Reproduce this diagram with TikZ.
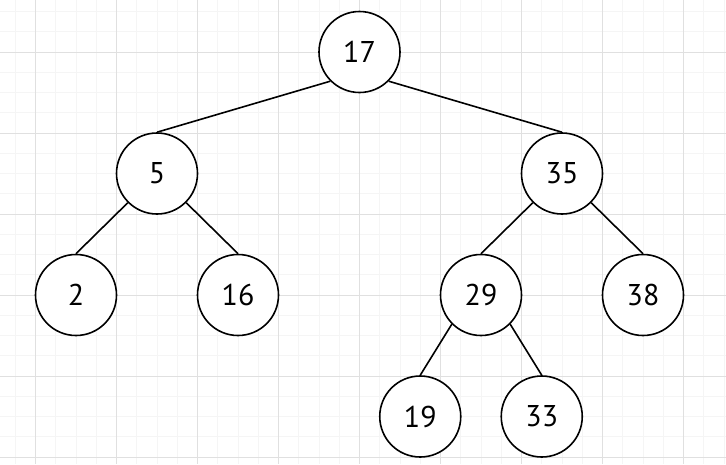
\documentclass[tikz,border=0pt]{standalone}
\usepackage{fontspec}
\setmainfont{PT Sans}
\definecolor{gridminor}{HTML}{F5F5F5}
\definecolor{gridmajor}{HTML}{E0E0E0}
\begin{document}
\begin{tikzpicture}[x=1pt,y=-1pt,
  minorline/.style={draw=gridminor,line width=1pt},
  majorline/.style={draw=gridmajor,line width=1pt},
  treenode/.style={circle,draw=black,fill=white,line width=1.6pt,minimum size=81pt,inner sep=0pt,font=\fontsize{30}{30}\selectfont},
  treeedge/.style={draw=black,line width=1.6pt}]
\useasboundingbox (0,0) rectangle (726,464);
\fill[white] (0,0) rectangle (726,464);
\foreach \i in {0,...,35} {
  \draw[minorline] ({15.25+20.25*\i},0) -- ++(0,464);
}
\foreach \i in {0,...,22} {
  \draw[minorline] (0,{11.5+20.25*\i}) -- ++(726,0);
}
\foreach \i in {0,...,8} {
  \draw[majorline] ({35.5+81*\i},0) -- ++(0,464);
}
\foreach \i in {0,...,5} {
  \draw[majorline] (0,{52+81*\i}) -- ++(726,0);
}
\node[treenode] (n17) at (359.5,52) {17};
\node[treenode] (n5) at (157,173.5) {5};
\node[treenode] (n35) at (562,173.5) {35};
\node[treenode] (n2) at (76,295) {2};
\node[treenode] (n16) at (238,295) {16};
\node[treenode] (n29) at (481,295) {29};
\node[treenode] (n38) at (643,295) {38};
\node[treenode] (n19) at (420.25,416.5) {19};
\node[treenode] (n33) at (541.75,416.5) {33};
\draw[treeedge] (n17.south west) -- (n5.north);
\draw[treeedge] (n17.south east) -- (n35.north);
\draw[treeedge] (n5.south west) -- (n2.north);
\draw[treeedge] (n5.south east) -- (n16.north);
\draw[treeedge] (n35.south west) -- (n29.north);
\draw[treeedge] (n35.south east) -- (n38.north);
\draw[treeedge] (n29.south west) -- (n19.north);
\draw[treeedge] (n29.south east) -- (n33.north);
\end{tikzpicture}
\end{document}
